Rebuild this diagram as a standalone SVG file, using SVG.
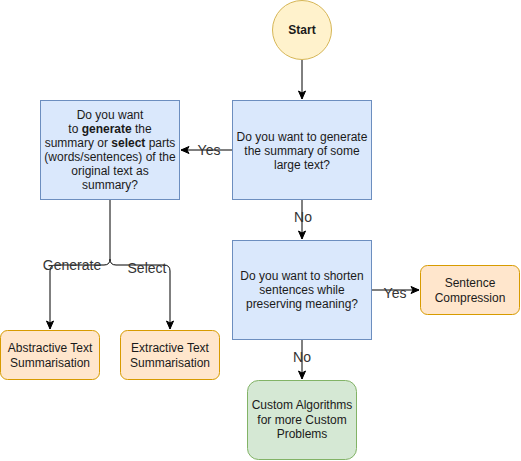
<svg xmlns="http://www.w3.org/2000/svg" width="521" height="461" viewBox="0 0 521 461">
<defs>
<marker id="arr" markerUnits="userSpaceOnUse" markerWidth="10" markerHeight="10" viewBox="0 0 10 10" refX="9" refY="5" orient="auto">
<path d="M1,1.5 L9,5 L1,8.5 L3,5 Z" fill="#000" stroke="#000" stroke-width="1"/>
</marker>
</defs>
<style>
text{font-family:"Liberation Sans",Arial,sans-serif;font-size:12px;fill:#1a1a1a;text-anchor:middle}
.lbl{font-size:14px;fill:#333}
.blue{fill:#dae8fc;stroke:#6c8ebf;stroke-width:1}
.orange{fill:#ffe6cc;stroke:#d79b00;stroke-width:1}
.green{fill:#d5e8d4;stroke:#82b366;stroke-width:1}
.yellow{fill:#fff2cc;stroke:#d6b656;stroke-width:1}
.edge{fill:none;stroke:#000;stroke-width:1}
</style>
<rect width="521" height="461" fill="#fff"/>
<g id="connectors">
<path class="edge" d="M302,60 V99" marker-end="url(#arr)"/>
<path class="edge" d="M232.5,150 H181" marker-end="url(#arr)"/>
<text class="lbl" x="209" y="155">Yes</text>
<path class="edge" d="M302,200 V239" marker-end="url(#arr)"/>
<text class="lbl" x="303" y="222">No</text>
<path class="edge" d="M372,290 H419" marker-end="url(#arr)"/>
<text class="lbl" x="395" y="298">Yes</text>
<path class="edge" d="M302,340 V379" marker-end="url(#arr)"/>
<text class="lbl" x="302" y="362">No</text>
<path class="edge" d="M110,200 V259 Q110,265 104,265 H56 Q50,265 50,271 V329" marker-end="url(#arr)"/>
<path class="edge" d="M110,259 Q110,265 116,265 H164 Q170,265 170,271 V329" marker-end="url(#arr)"/>
<text class="lbl" x="72" y="270">Generate</text>
<text class="lbl" x="147" y="273">Select</text>
</g>
<g id="start">
<circle class="yellow" cx="302" cy="30" r="29.5"/>
<text x="302" y="34" font-weight="bold">Start</text>
</g>
<g id="q1">
<rect class="blue" x="232.5" y="100.5" width="139" height="99"/>
<text x="302" y="141">Do you want to generate</text>
<text x="302" y="155">the summary of some</text>
<text x="302" y="169">large text?</text>
</g>
<g id="q2">
<rect class="blue" x="40.5" y="100.5" width="139" height="99"/>
<text x="110" y="119">Do you want</text>
<text x="110" y="133">to <tspan font-weight="bold">generate</tspan> the</text>
<text x="110" y="147">summary or <tspan font-weight="bold">select</tspan> parts</text>
<text x="110" y="161">(words/sentences) of the</text>
<text x="110" y="175">original text as</text>
<text x="110" y="189">summary?</text>
</g>
<g id="q3">
<rect class="blue" x="232.5" y="240.5" width="139" height="99"/>
<text x="302" y="280">Do you want to shorten</text>
<text x="302" y="294">sentences while</text>
<text x="302" y="308">preserving meaning?</text>
</g>
<g id="compression">
<rect class="orange" x="420.5" y="265.5" width="99" height="49" rx="7"/>
<text x="470" y="287">Sentence</text>
<text x="470" y="302">Compression</text>
</g>
<g id="custom">
<rect class="green" x="247.5" y="380.5" width="109" height="79" rx="11"/>
<text x="302" y="409">Custom Algorithms</text>
<text x="302" y="424">for more Custom</text>
<text x="302" y="438">Problems</text>
</g>
<g id="abstractive">
<rect class="orange" x="0.5" y="330.5" width="99" height="49" rx="7"/>
<text x="50" y="352">Abstractive Text</text>
<text x="50" y="367">Summarisation</text>
</g>
<g id="extractive">
<rect class="orange" x="120.5" y="330.5" width="99" height="49" rx="7"/>
<text x="170" y="352">Extractive Text</text>
<text x="170" y="367">Summarisation</text>
</g>
</svg>
